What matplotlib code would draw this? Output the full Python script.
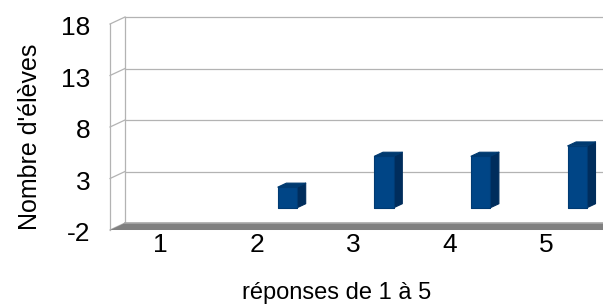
import matplotlib
matplotlib.use('Agg')
import matplotlib.pyplot as plt
from matplotlib.patches import Polygon

plt.rcParams['font.family'] = ['Liberation Sans', 'DejaVu Sans']

categories = [1, 2, 3, 4, 5]
values = [0, 2, 5, 5, 6]
yticks = [-2, 3, 8, 13, 18]
xlabel = 'réponses de 1 à 5'
ylabel = "Nombre d'élèves"

front = '#004586'
side = '#002d5c'
top = '#003a70'
wall = '#b3b3b3'

# depth of the 3d box, in data units of the back wall
DX = 0.155
DY = 0.68


def proj(x, y, z):
    # z = 0 at back wall, z = 1 at front edge
    return (x - z * DX, y - z * DY)


fig = plt.figure(figsize=(6.03, 3.04), dpi=100)
ax = fig.add_axes([125 / 603, 81 / 304, 483 / 603, 206 / 304])
ax.set_xlim(0.5, 5.5)
ax.set_ylim(-2, 18)
ax.axis('off')

# back wall grid + left wall
for v in yticks[1:]:
    ax.plot([0.5, 5.6], [v, v], color=wall, lw=0.9, clip_on=False, zorder=1)
for v in yticks:
    p0, p1 = proj(0.5, v, 0), proj(0.5, v, 1)
    ax.plot([p0[0], p1[0]], [p0[1], p1[1]], color=wall, lw=0.9, clip_on=False)
    ax.text(p1[0] - 0.2, p1[1] - 0.4, str(v), ha='right', va='center',
            fontsize=19, clip_on=False)
ax.plot([0.5, 0.5], [-2, 18], color=wall, lw=0.9, clip_on=False)
f0, f1 = proj(0.5, -2, 1), proj(0.5, 18, 1)
ax.plot([f0[0], f1[0]], [f0[1], f1[1]], color=wall, lw=0.9, clip_on=False)

# floor
floor = [proj(0.5, -2, 0), proj(5.62, -2, 0), proj(5.62, -2, 1), proj(0.5, -2, 1)]
ax.add_patch(Polygon(floor, closed=True, facecolor='#808080', edgecolor='none',
                     clip_on=False, zorder=2))
ax.plot([0.5, 5.62], [-2, -2], color='#a8a8a8', lw=1.2, clip_on=False, zorder=3)

# bars
zf, zb = 0.76, 0.19
w = 0.2
for c, v in zip(categories, values):
    if v <= 0:
        continue
    x0 = c + 0.2
    x1 = x0 + w
    fl, fb = proj(x0, 0, zf)
    fr, ft = proj(x1, v, zf)
    br, bt = proj(x1, v, zb)
    bl, _ = proj(x0, v, zb)
    _, bb = proj(x1, 0, zb)
    ax.add_patch(Polygon([(fr, fb), (fr, ft), (br, bt), (br, bb)], closed=True,
                         facecolor=side, edgecolor=side, lw=0.8, joinstyle='round',
                         clip_on=False, zorder=4))
    ax.add_patch(Polygon([(fl, ft), (fr, ft), (br, bt), (bl, bt)], closed=True,
                         facecolor=top, edgecolor=top, lw=0.8, joinstyle='round',
                         clip_on=False, zorder=4))
    ax.add_patch(Polygon([(fl, fb), (fr, fb), (fr, ft), (fl, ft)], closed=True,
                         facecolor=front, edgecolor='#003a72', lw=0.8,
                         joinstyle='round', clip_on=False, zorder=5))

# category labels
for c in categories:
    px, py = proj(c, -2, 1)
    ax.text(px + 0.02, py - 1.5, str(c), ha='center', va='center', fontsize=19,
            clip_on=False)

fig.text(337 / 603, 1 - 299 / 304, xlabel, ha='center', va='baseline',
         fontsize=17)
fig.text(30 / 603, 1 - 137 / 304, ylabel, ha='center', va='center', fontsize=18,
         rotation=90)

fig.savefig('out.png', dpi=100)
